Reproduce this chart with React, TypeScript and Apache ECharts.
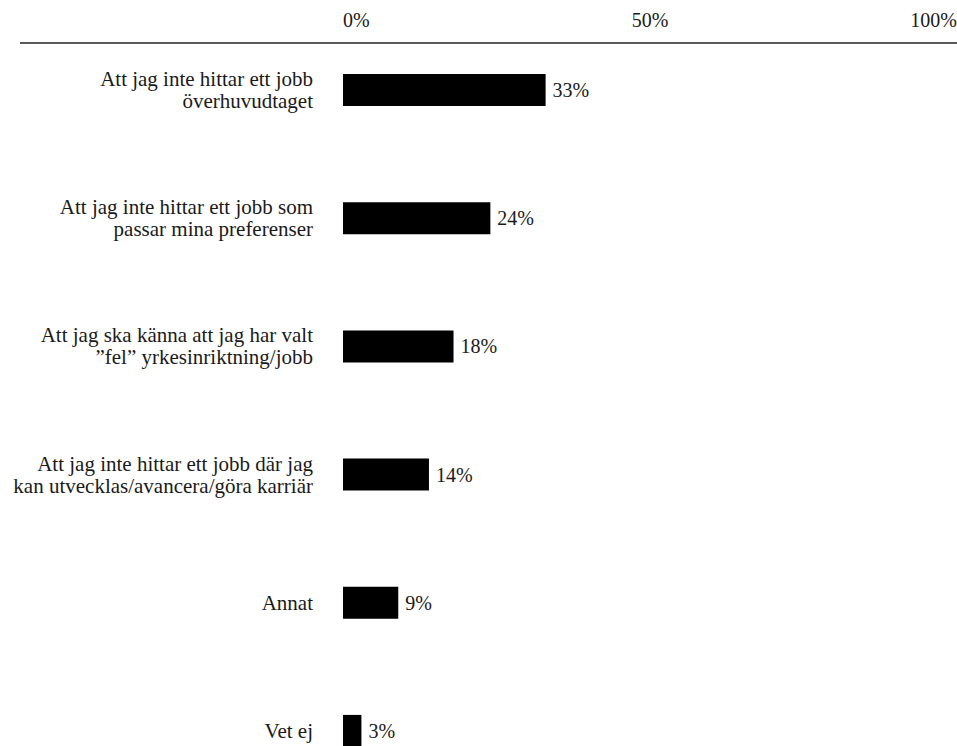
import React, { useEffect, useRef } from "react";
import * as echarts from "echarts";

const categories: string[] = [
  "Att jag inte hittar ett jobb\növerhuvudtaget",
  "Att jag inte hittar ett jobb som\npassar mina preferenser",
  "Att jag ska känna att jag har valt\n”fel” yrkesinriktning/jobb",
  "Att jag inte hittar ett jobb där jag\nkan utvecklas/avancera/göra karriär",
  "Annat",
  "Vet ej",
];
const values: number[] = [33, 24, 18, 14, 9, 3];
const tickValues: number[] = [0, 50, 100];

const FONT = "Liberation Serif";
const TEXT = "#1a1a1a";

export default function App() {
  const ref = useRef<HTMLDivElement>(null);
  useEffect(() => {
    document.body.style.margin = "0";
    const chart = echarts.init(ref.current!, undefined, { renderer: "svg" });
    chart.setOption({
      animation: false,
      textStyle: { fontFamily: FONT },
      grid: {
        left: 343,
        right: 0,
        top: 26,
        height: 769,
        containLabel: false,
        outerBoundsMode: "none",
      },
      xAxis: {
        type: "value",
        position: "top",
        min: tickValues[0],
        max: tickValues[tickValues.length - 1],
        interval: 50,
        axisLine: { show: false },
        axisTick: { show: false },
        splitLine: { show: false },
        axisLabel: {
          formatter: (v: number) => `${v}%`,
          fontFamily: FONT,
          fontSize: 20,
          color: TEXT,
          verticalAlign: "middle",
          margin: 6,
          alignMinLabel: "left",
          alignMaxLabel: "right",
        },
      },
      yAxis: {
        type: "category",
        inverse: true,
        data: categories,
        axisLine: { show: false },
        axisTick: { show: false },
        axisLabel: {
          fontFamily: FONT,
          fontSize: 21,
          color: TEXT,
          align: "right",
          lineHeight: 22,
          margin: 30,
        },
      },
      series: [
        {
          type: "bar",
          data: values,
          barWidth: 32,
          itemStyle: { color: "#000" },
          label: {
            show: true,
            position: "right",
            distance: 7,
            formatter: "{c}%",
            fontFamily: FONT,
            fontSize: 20,
            color: TEXT,
          },
        },
      ],
      graphic: [
        {
          type: "line",
          shape: { x1: 20, y1: 43, x2: 957, y2: 43 },
          style: { stroke: "#222", lineWidth: 1.5 },
        },
      ],
    });
    return () => chart.dispose();
  }, []);
  return (
    <div
      ref={ref}
      style={{ position: "absolute", left: 0, top: 0, width: 957, height: 746 }}
    />
  );
}
